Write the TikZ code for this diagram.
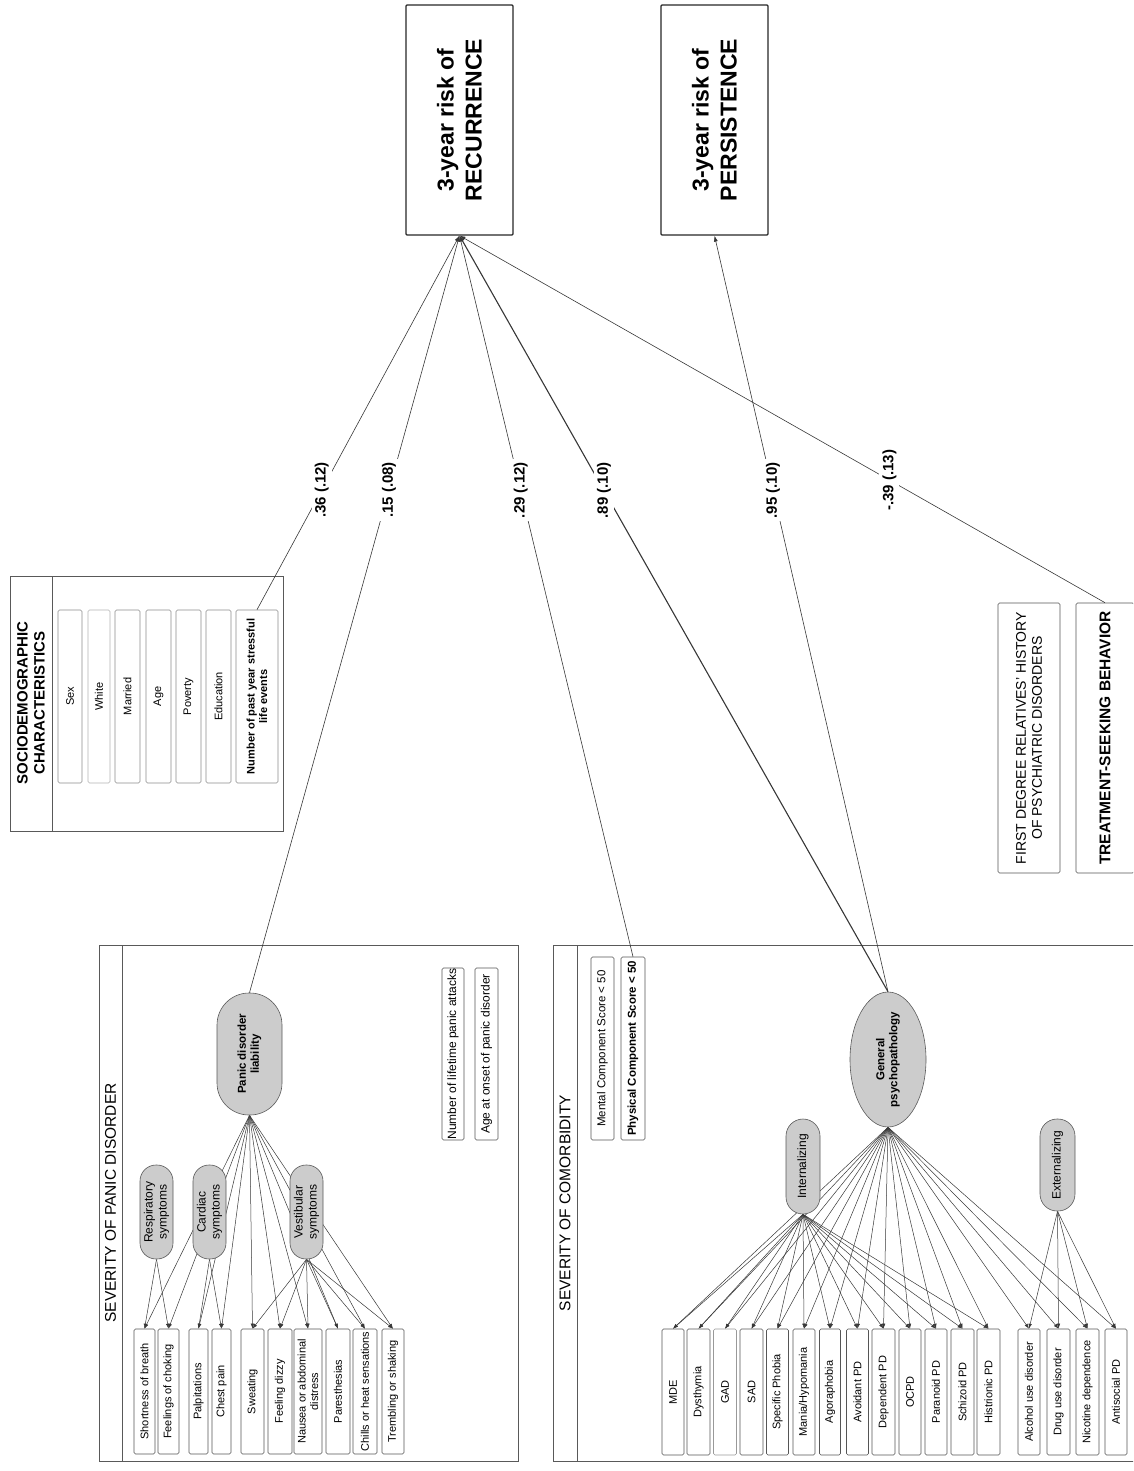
\documentclass[tikz,border=0pt]{standalone}
\usepackage{fontspec}
\setmainfont{Liberation Sans}
\usetikzlibrary{positioning,arrows.meta,shapes.geometric,backgrounds}
\definecolor{LatGray}{RGB}{204,204,204}
\definecolor{LineGray}{RGB}{55,55,55}
\definecolor{BoxGray}{RGB}{85,85,85}
\newcommand{\pxfont}[2]{\fontsize{#1}{#2}\selectfont}
\tikzset{
  outcome/.style={draw=black!85,line width=1.2pt,rounded corners=1pt,rotate=90,align=center,
    inner sep=0pt,minimum width=230pt,minimum height=107pt,font=\bfseries\pxfont{23}{28}},
  panel/.style={draw=black!65,line width=0.8pt},
  ptitle/.style={rotate=90,align=center,font=\pxfont{15.5}{17}},
  ind/.style={draw=BoxGray,line width=0.6pt,rounded corners=1.5pt,rotate=90,align=center,
    inner sep=0pt,font=\pxfont{11}{12.5}},
  lat/.style={draw=black!65,fill=LatGray,line width=0.6pt,rotate=90,align=center,
    inner sep=0pt,font=\pxfont{12}{14}},
}
\tikzset{coef/.style={fill=white,rotate=90,inner sep=3pt,font=\bfseries\pxfont{15}{17}},
  load/.style={draw=LineGray,line width=0.5pt,-{Latex[length=5pt,width=3.5pt]}},
  effect/.style={draw=LineGray,line width=0.6pt,-{Latex[length=6pt,width=4pt]}}}

\begin{document}
\begin{tikzpicture}[x=1pt,y=-1pt]
\useasboundingbox (0,0) rectangle (1133,1471);
\clip (0,0) rectangle (1133,1471);
% outcomes
\node[outcome] (rec) at (459.5,120) {3-year risk of\\RECURRENCE};
\node[outcome] (pers) at (714.5,120) {3-year risk of\\PERSISTENCE};

% sociodemographic characteristics
\draw[panel] (10,576) rectangle (283,831);
\draw[panel] (52,576) -- (52,831);
\node[ptitle,font=\bfseries\pxfont{15}{17}] (sdtitle) at (31,703) {SOCIODEMOGRAPHIC\\CHARACTERISTICS};
\node[ind,draw=black!45,minimum width=173pt,minimum height=24pt] (sex) at (70,696.5) {Sex};
\node[ind,draw=black!30,minimum width=173pt,minimum height=22pt] (white) at (99,696.5) {White};
\node[ind,draw=black!45,minimum width=173pt,minimum height=25pt] (married) at (127.5,696.5) {Married};
\node[ind,draw=black!45,minimum width=173pt,minimum height=25pt] (age) at (158.5,696.5) {Age};
\node[ind,draw=black!45,minimum width=173pt,minimum height=25pt] (poverty) at (188.5,696.5) {Poverty};
\node[ind,draw=black!45,minimum width=173pt,minimum height=25pt] (educ) at (218.5,696.5) {Education};
\node[ind,draw=black!45,minimum width=173pt,minimum height=42pt,font=\bfseries\pxfont{11}{12.5}] (sle) at (257,696.5) {Number of past year stressful\\life events};

% severity of panic disorder
\draw[panel] (99,945) rectangle (518,1461);
\draw[panel] (122,945) -- (122,1461);
\node[ptitle] (pdtitle) at (110.5,1203) {SEVERITY OF PANIC DISORDER};
\node[lat,minimum width=122pt,minimum height=65pt,rounded corners=32pt,font=\bfseries\pxfont{11.5}{13}] (liab) at (249.5,1054) {Panic disorder\\liability};
\node[lat,minimum width=94pt,minimum height=33pt,rounded corners=16pt] (resp) at (156.5,1212) {Respiratory\\symptoms};
\node[lat,minimum width=94pt,minimum height=33pt,rounded corners=16pt] (card) at (209.5,1212) {Cardiac\\symptoms};
\node[lat,minimum width=94pt,minimum height=33pt,rounded corners=16pt] (vest) at (306.5,1212) {Vestibular\\symptoms};
\node[ind,minimum width=125pt,minimum height=21pt] (short) at (144.5,1391.5) {Shortness of breath};
\node[ind,minimum width=125pt,minimum height=21pt] (chok) at (168.5,1391.5) {Feelings of choking};
\node[ind,minimum width=125pt,minimum height=19pt] (palp) at (198.5,1391.5) {Palpitations};
\node[ind,minimum width=125pt,minimum height=19pt] (chest) at (221.5,1391.5) {Chest pain};
\node[ind,minimum width=125pt,minimum height=23pt] (sweat) at (252.5,1391.5) {Sweating};
\node[ind,minimum width=125pt,minimum height=24pt] (dizzy) at (280,1391.5) {Feeling dizzy};
\node[ind,minimum width=125pt,minimum height=28pt] (nausea) at (308,1391.5) {Nausea or abdominal\\distress};
\node[ind,minimum width=125pt,minimum height=24pt] (pares) at (338,1391.5) {Paresthesias};
\node[ind,minimum width=125pt,minimum height=24pt] (chills) at (365,1391.5) {Chills or heat sensations};
\node[ind,minimum width=125pt,minimum height=22pt] (tremb) at (393,1391.5) {Trembling or shaking};
\node[ind,minimum width=172pt,minimum height=22pt,font=\pxfont{12}{13}] (nlpa) at (453,1054) {Number of lifetime panic attacks};
\node[ind,minimum width=172pt,minimum height=23pt,font=\pxfont{12}{13}] (onset) at (486.5,1054) {Age at onset of panic disorder};

% severity of comorbidity
\draw[panel] (553,945) rectangle (1145,1461);
\draw[panel] (577,945) -- (577,1461);
\node[ptitle] (cmtitle) at (565,1203) {SEVERITY OF COMORBIDITY};
\node[ind,minimum width=183pt,minimum height=23pt,font=\pxfont{11.5}{13}] (mcs) at (602.5,1048.5) {Mental Component Score < 50};
\node[ind,minimum width=183pt,minimum height=24pt,font=\bfseries\pxfont{11.5}{13}] (pcs) at (633,1048.5) {Physical Component Score < 50};
\node[lat,ellipse,minimum width=135pt,minimum height=76pt,font=\bfseries\pxfont{11.5}{13}] (gp) at (888,1059.5) {General\\psychopathology};
\node[lat,minimum width=95pt,minimum height=34pt,rounded corners=17pt] (intl) at (803,1166.5) {Internalizing};
\node[lat,minimum width=92pt,minimum height=35pt,rounded corners=17pt] (extl) at (1057.5,1165) {Externalizing};
\node[ind,minimum width=126pt,minimum height=22pt] (mde) at (673,1392) {MDE};
\node[ind,minimum width=126pt,minimum height=23pt] (dys) at (698.5,1392) {Dysthymia};
\node[ind,draw=black!40,minimum width=126pt,minimum height=23pt] (gad) at (725,1392) {GAD};
\node[ind,minimum width=126pt,minimum height=23pt] (sad) at (751.5,1392) {SAD};
\node[ind,minimum width=126pt,minimum height=22pt] (spph) at (777.5,1392) {Specific Phobia};
\node[ind,minimum width=126pt,minimum height=22pt] (mania) at (804,1392) {Mania/Hypomania};
\node[ind,minimum width=126pt,minimum height=21pt] (agor) at (830,1392) {Agoraphobia};
\node[ind,minimum width=126pt,minimum height=22pt] (avpd) at (857.5,1392) {Avoidant PD};
\node[ind,minimum width=126pt,minimum height=23pt] (depd) at (883.5,1392) {Dependent PD};
\node[ind,minimum width=126pt,minimum height=22pt] (ocpd) at (910,1392) {OCPD};
\node[ind,minimum width=126pt,minimum height=22pt] (parpd) at (936,1392) {Paranoid PD};
\node[ind,minimum width=126pt,minimum height=23pt] (schpd) at (962.5,1392) {Schizoid PD};
\node[ind,minimum width=126pt,minimum height=23pt] (hispd) at (988.5,1392) {Histrionic PD};
\node[ind,minimum width=126pt,minimum height=22pt] (alc) at (1029,1392) {Alcohol use disorder};
\node[ind,minimum width=126pt,minimum height=23pt] (drug) at (1058.5,1392) {Drug use disorder};
\node[ind,minimum width=126pt,minimum height=23pt] (nic) at (1087.5,1392) {Nicotine dependence};
\node[ind,minimum width=126pt,minimum height=22pt] (anti) at (1116,1392) {Antisocial PD};

% family history, treatment seeking
\node[ind,minimum width=270pt,minimum height=62pt,font=\pxfont{14}{16}] (fdr) at (1029,738) {FIRST DEGREE RELATIVES' HISTORY\\OF PSYCHIATRIC DISORDERS};
\node[ind,minimum width=270pt,minimum height=58pt,font=\bfseries\pxfont{15.5}{17}] (tsb) at (1105,738) {TREATMENT-SEEKING BEHAVIOR};

% paths to the outcomes
\draw[effect] (sle.east) -- node[coef,pos=0.32] (c36) {.36 (.12)} (rec.west);
\draw[effect] (liab.east) -- node[coef,pos=0.664] (c15) {.15 (.08)} (rec.west);
\draw[effect] (pcs.east) -- node[coef,pos=0.647] (c29) {.29 (.12)} (rec.west);
\draw[effect,line width=1.1pt] (gp.east) -- node[coef,pos=0.663] (c89) {.89 (.10)} (rec.west);
\draw[effect] (gp.east) -- node[coef,pos=0.663] (c95) {.95 (.10)} (pers.west);
\draw[effect] (tsb.east) -- node[coef,pos=0.334] (c39) {-.39 (.13)} (rec.west);

% measurement part
\begin{scope}[on background layer]
\draw[load] (liab.west) -- (short.east);
\draw[load] (liab.west) -- (chok.east);
\draw[load] (liab.west) -- (palp.east);
\draw[load] (liab.west) -- (chest.east);
\draw[load] (liab.west) -- (sweat.east);
\draw[load] (liab.west) -- (dizzy.east);
\draw[load] (liab.west) -- (nausea.east);
\draw[load] (liab.west) -- (pares.east);
\draw[load] (liab.west) -- (chills.east);
\draw[load] (liab.west) -- (tremb.east);
\draw[load] (resp.west) -- (short.east);
\draw[load] (resp.west) -- (chok.east);
\draw[load] (card.west) -- (palp.east);
\draw[load] (card.west) -- (chest.east);
\draw[load] (vest.west) -- (sweat.east);
\draw[load] (vest.west) -- (dizzy.east);
\draw[load] (vest.west) -- (nausea.east);
\draw[load] (vest.west) -- (pares.east);
\draw[load] (vest.west) -- (chills.east);
\draw[load] (vest.west) -- (tremb.east);

\draw[load] (gp.west) -- (mde.east);
\draw[load] (gp.west) -- (dys.east);
\draw[load] (gp.west) -- (gad.east);
\draw[load] (gp.west) -- (sad.east);
\draw[load] (gp.west) -- (spph.east);
\draw[load] (gp.west) -- (mania.east);
\draw[load] (gp.west) -- (agor.east);
\draw[load] (gp.west) -- (avpd.east);
\draw[load] (gp.west) -- (depd.east);
\draw[load] (gp.west) -- (ocpd.east);
\draw[load] (gp.west) -- (parpd.east);
\draw[load] (gp.west) -- (schpd.east);
\draw[load] (gp.west) -- (hispd.east);
\draw[load] (gp.west) -- (alc.east);
\draw[load] (gp.west) -- (drug.east);
\draw[load] (gp.west) -- (nic.east);
\draw[load] (gp.west) -- (anti.east);
\draw[load] (intl.west) -- (mde.east);
\draw[load] (intl.west) -- (dys.east);
\draw[load] (intl.west) -- (gad.east);
\draw[load] (intl.west) -- (sad.east);
\draw[load] (intl.west) -- (spph.east);
\draw[load] (intl.west) -- (mania.east);
\draw[load] (intl.west) -- (agor.east);
\draw[load] (intl.west) -- (avpd.east);
\draw[load] (intl.west) -- (depd.east);
\draw[load] (intl.west) -- (ocpd.east);
\draw[load] (intl.west) -- (parpd.east);
\draw[load] (intl.west) -- (schpd.east);
\draw[load] (intl.west) -- (hispd.east);
\draw[load] (extl.west) -- (alc.east);
\draw[load] (extl.west) -- (drug.east);
\draw[load] (extl.west) -- (nic.east);
\draw[load] (extl.west) -- (anti.east);
\end{scope}
\end{tikzpicture}
\end{document}
